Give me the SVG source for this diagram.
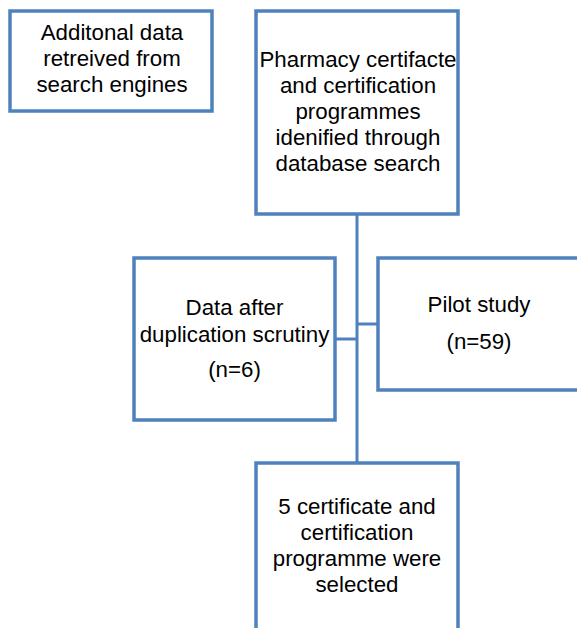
<svg xmlns="http://www.w3.org/2000/svg" width="577" height="628" viewBox="0 0 577 628">
<style>
.box{fill:#fff;stroke:#4F81BD;stroke-width:3.5}
.ln{stroke:#4F81BD;stroke-width:3;fill:none}
text{font-family:"Liberation Sans",Arial,sans-serif;font-size:22.3px;fill:#000;text-anchor:middle}
</style>
<rect width="577" height="628" fill="#fff"/>
<g id="connectors">
<line class="ln" x1="357" y1="214" x2="357" y2="463"/>
<line class="ln" x1="335" y1="339" x2="357" y2="339"/>
<line class="ln" x1="357" y1="324" x2="378" y2="324"/>
</g>
<g id="n1">
<rect class="box" x="10" y="11" width="202" height="100"/>
<text x="112" y="40">Additonal data</text>
<text x="112" y="66">retreived from</text>
<text x="112" y="92">search engines</text>
</g>
<g id="n2">
<rect class="box" x="256" y="11" width="202" height="203"/>
<text x="358" y="67">Pharmacy certifacte</text>
<text x="358" y="93">and certification</text>
<text x="358" y="119">programmes</text>
<text x="358" y="145">idenified through</text>
<text x="358" y="171">database search</text>
</g>
<g id="n3">
<rect class="box" x="134" y="258" width="201" height="162"/>
<text x="234.5" y="315">Data after</text>
<text x="234.5" y="342">duplication scrutiny</text>
<text x="234.5" y="377">(n=6)</text>
</g>
<g id="n4">
<rect class="box" x="378" y="258" width="210" height="132"/>
<text x="479" y="312">Pilot study</text>
<text x="479" y="349">(n=59)</text>
</g>
<g id="n5">
<rect class="box" x="256" y="463" width="202" height="180"/>
<text x="357" y="514">5 certificate and</text>
<text x="357" y="540">certification</text>
<text x="357" y="566">programme were</text>
<text x="357" y="592">selected</text>
</g>
</svg>
